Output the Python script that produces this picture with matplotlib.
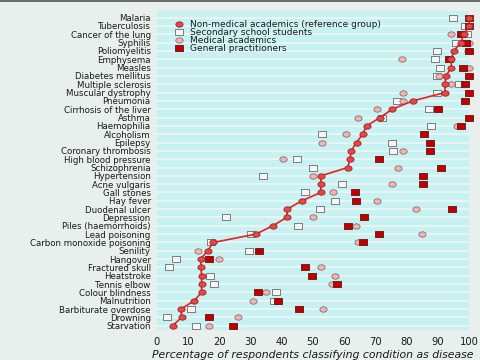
import matplotlib
matplotlib.use("Agg")
import matplotlib.pyplot as plt
import numpy as np
from matplotlib.path import Path
from matplotlib.lines import Line2D

conditions = [
    "Malaria", "Tuberculosis", "Cancer of the lung", "Syphilis", "Poliomyelitis",
    "Emphysema", "Measles", "Diabetes mellitus", "Multiple sclerosis",
    "Muscular dystrophy", "Pneumonia", "Cirrhosis of the liver", "Asthma",
    "Haemophilia", "Alcoholism", "Epilepsy", "Coronary thrombosis",
    "High blood pressure", "Schizophrenia", "Hypertension", "Acne vulgaris",
    "Gall stones", "Hay fever", "Duodenal ulcer", "Depression",
    "Piles (haemorrhoids)", "Lead poisoning", "Carbon monoxide poisoning",
    "Senility", "Hangover", "Fractured skull", "Heatstroke", "Tennis elbow",
    "Colour blindness", "Malnutrition", "Barbiturate overdose", "Drowning",
    "Starvation",
]

non_medical = [100, 100, 98.5, 97.3, 95.2, 94.2, 94.4, 92.6, 92.3, 92.3, 82, 75.4, 71.5,
               67.2, 65.9, 64.0, 62.2, 61.9, 61.1, 52.6, 52.5, 52.5, 46.4, 41.8, 41.6,
               37.1, 31.7, 18.1, 16.2, 14.0, 14.1, 14.3, 14.3, 14.3, 11.9, 7.7, 7.9, 5.0]
secondary = [95.0, 98.7, 99.3, 95.8, 89.8, 89.1, 90.7, 89.6, 96.9, 89.8, 76.8, 87.3, 72.0,
             87.8, 52.8, 75.4, 75.7, 45.0, 49.9, 34.1, 59.2, 47.4, 57.1, 52.2, 22.1,
             45.3, 30.3, 17.2, 29.6, 6.1, 4.0, 17.0, 18.3, 38.1, 37.6, 10.8, 3.3, 12.4]
medical = [100, 100, 94.2, 100, 99.8, 78.6, 100, 90.5, 94.4, 78.7, 79.0, 70.4, 64.5,
           96.3, 60.6, 53.0, 79.0, 40.5, 77.4, 49.9, 75.2, 56.3, 70.4, 82.9, 50.1,
           63.8, 84.8, 64.5, 13.0, 19.9, 52.6, 57.1, 56.2, 35.1, 30.7, 53.3, 25.9, 16.7]
gps = [100, 100, 97.3, 99.0, 100, 93.6, 98.2, 100, 98.7, 100, 98.7, 90.2, 100,
       97.6, 85.7, 87.5, 87.5, 71.3, 91.0, 85.2, 85.2, 63.5, 63.7, 94.7, 66.5,
       61.3, 71.3, 65.9, 32.7, 16.7, 47.4, 49.8, 57.6, 32.5, 38.9, 45.5, 16.7, 24.5]
xticks = [0, 10, 20, 30, 40, 50, 60, 70, 80, 90, 100]

plt.rcParams["font.family"] = ["DejaVu Sans"]
FIG_BG = "#e8efed"
PANEL = "#c8f2f2"
GRID = "#ecf6f6"
TXT = "#1a1a1a"

fig = plt.figure(figsize=(4.8, 3.6), dpi=100, facecolor=FIG_BG)
ax = fig.add_axes([0.327, 0.0825, 0.650, 0.8875])
ax.set_facecolor(PANEL)

# wide markers (slightly wider than tall)
circ = Path.unit_circle()
ell = Path(circ.vertices * np.array([1.35, 1.0]), circ.codes)
rect = Path([(-1.4, -1), (1.4, -1), (1.4, 1), (-1.4, 1), (-1.4, -1)],
            [Path.MOVETO, Path.LINETO, Path.LINETO, Path.LINETO, Path.CLOSEPOLY])

y = np.arange(len(conditions))
for yy in y:
    ax.axhline(yy, color=GRID, lw=1.3, zorder=1)

ms = 5.2
ax.plot(secondary, y, ls="none", marker=rect, ms=ms, mfc="#f6f6f6", mec="#6a6a6a",
        mew=0.6, zorder=3, clip_on=False)
ax.plot(medical, y, ls="none", marker=ell, ms=ms, mfc="#f4b4b4", mec="#8a6a6a",
        mew=0.6, zorder=4, clip_on=False)
ax.plot(gps, y, ls="none", marker=rect, ms=ms, mfc="#c00000", mec="#6a1010",
        mew=0.6, zorder=5, clip_on=False)
ax.plot(non_medical, y, color="#e82020", lw=1.2, zorder=6, clip_on=False)
ax.plot(non_medical, y, ls="none", marker=ell, ms=ms, mfc="#e8474a", mec="#9a2020",
        mew=0.6, zorder=7, clip_on=False)

ax.set_xlim(0, 100)
ax.set_ylim(len(conditions) - 1 + 0.55, -0.82)
ax.set_yticks(y)
ax.set_yticklabels(conditions)
ax.set_xticks(xticks)
ax.tick_params(axis="both", length=0, colors=TXT)
ax.tick_params(axis="y", pad=4.5, labelsize=6.2)
ax.tick_params(axis="x", pad=5, labelsize=7.2)
for s in ax.spines.values():
    s.set_visible(False)
ax.set_xlabel("Percentage of respondents classifying condition as disease",
              fontsize=7.8, style="italic", color=TXT, labelpad=2)

handles = [
    Line2D([], [], ls="none", marker=ell, ms=ms, mfc="#e8474a", mec="#9a2020", mew=0.6),
    Line2D([], [], ls="none", marker=rect, ms=ms, mfc="#f6f6f6", mec="#6a6a6a", mew=0.6),
    Line2D([], [], ls="none", marker=ell, ms=ms, mfc="#f4b4b4", mec="#8a6a6a", mew=0.6),
    Line2D([], [], ls="none", marker=rect, ms=ms, mfc="#c00000", mec="#6a1010", mew=0.6),
]
labels = ["Non-medical academics (reference group)", "Secondary school students",
          "Medical academics", "General practitioners"]
leg = ax.legend(handles, labels, loc="upper left", bbox_to_anchor=(0.042, 0.985),
                frameon=False, fontsize=6.5, handlelength=1.0, handletextpad=0.75,
                labelspacing=-0.12, borderaxespad=0.3, borderpad=0.2)
for t in leg.get_texts():
    t.set_color(TXT)

fig.add_artist(Line2D([0, 1], [0.997, 0.997], transform=fig.transFigure,
                      color="#555555", lw=1.2))

fig.savefig("out.png", dpi=100, facecolor=FIG_BG)
